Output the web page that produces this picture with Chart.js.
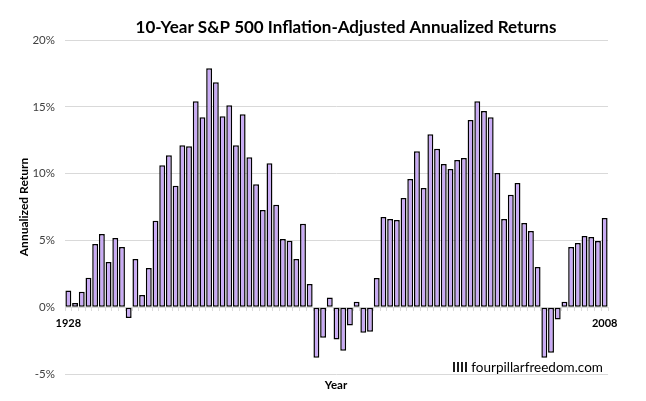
<!DOCTYPE html>
<html>
<head>
<meta charset="utf-8">
<script src="https://cdn.jsdelivr.net/npm/chart.js@4/dist/chart.umd.min.js"></script>
<style>
  html, body { margin: 0; padding: 0; background: #fff; }
  #wrap { width: 646px; height: 401px; }
</style>
</head>
<body>
<div id="wrap"><canvas id="chart"></canvas></div>
<script>
const years = [];
for (let y = 1928; y <= 2008; y++) years.push(String(y));

const returns = [
  1.25, 0.32, 1.15, 2.2, 4.73, 5.48, 3.39, 5.18, 4.5, -0.8,
  3.6, 0.92, 2.94, 6.48, 10.63, 11.38, 9.09, 12.13, 12.05, 15.42,
  14.22, 17.88, 16.84, 14.3, 15.12, 12.13, 14.45, 11.23, 9.2, 7.27,
  10.78, 7.67, 5.1, 4.98, 3.6, 6.25, 1.74, -3.79, -2.29, 0.72,
  -2.42, -3.26, -1.37, 0.4, -1.92, -1.84, 2.19, 6.75, 6.6, 6.53,
  8.17, 9.59, 11.68, 8.92, 12.95, 11.86, 10.71, 10.34, 11.01, 11.16,
  14.02, 15.42, 14.69, 14.22, 10.04, 6.6, 8.42, 9.29, 6.3, 5.7,
  3.01, -3.79, -3.41, -0.92, 0.4, 4.51, 4.81, 5.33, 5.26, 4.96,
  6.67
];

const shownYears = ['1928', '2008'];
const yTicks = [-5, 0, 5, 10, 15, 20];

const FONT = 'Lato, "Open Sans", sans-serif';

// title, x axis name and watermark
const extraText = {
  id: 'extraText',
  afterDraw(chart) {
    const ctx = chart.ctx;
    ctx.save();
    ctx.fillStyle = '#000';
    ctx.textBaseline = 'middle';
    ctx.textAlign = 'center';
    ctx.font = 'bold 17px ' + FONT;
    ctx.fillText('10-Year S&P 500 Inflation-Adjusted Annualized Returns', 346, 28);
    ctx.font = 'bold 11.5px ' + FONT;
    ctx.fillText('Year', 336, 385);
    ctx.textAlign = 'left';
    ctx.font = 'bold 13.5px ' + FONT;
    ctx.fillText('IIII', 452, 368);
    const w = ctx.measureText('IIII ').width;
    ctx.font = '13.5px ' + FONT;
    ctx.fillText('fourpillarfreedom.com', 452 + w, 368);
    ctx.restore();
  }
};

new Chart(document.getElementById('chart'), {
  type: 'bar',
  data: {
    labels: years,
    datasets: [{
      label: 'Annualized Return',
      data: returns,
      backgroundColor: '#c9abf5',
      borderColor: '#000',
      borderWidth: 1.5,
      borderSkipped: false,
      categoryPercentage: 1.0,
      barPercentage: 0.88
    }]
  },
  options: {
    responsive: true,
    maintainAspectRatio: false,
    animation: false,
    layout: { padding: { top: 40, left: 0, right: 38, bottom: 27 } },
    plugins: {
      legend: { display: false },
      tooltip: { enabled: false }
    },
    scales: {
      x: {
        position: { y: 0 },
        offset: true,
        grid: {
          display: true,
          drawOnChartArea: false,
          drawTicks: true,
          tickLength: 3,
          color: '#d9d9d9',
          offset: true
        },
        border: { display: true, color: '#d9d9d9' },
        ticks: {
          autoSkip: false,
          maxRotation: 0,
          padding: 7,
          color: '#000',
          font: { family: FONT, size: 11, weight: 'bold' },
          callback: function (v, i) {
            const lab = years[i];
            return shownYears.includes(lab) ? lab : '';
          }
        }
      },
      y: {
        min: -5,
        max: 20,
        afterFit(scale) { scale.width = 65; },
        afterBuildTicks(scale) { scale.ticks = yTicks.map(v => ({ value: v })); },
        grid: { color: '#d9d9d9', drawTicks: false },
        border: { display: false },
        ticks: {
          padding: 10,
          color: '#404040',
          font: { family: FONT, size: 11.5 },
          callback: v => v + '%'
        },
        title: {
          display: true,
          text: 'Annualized Return',
          color: '#000',
          font: { family: FONT, size: 12, weight: 'bold' },
          padding: { top: 17, bottom: 0 }
        }
      }
    }
  },
  plugins: [extraText]
});
</script>
</body>
</html>
